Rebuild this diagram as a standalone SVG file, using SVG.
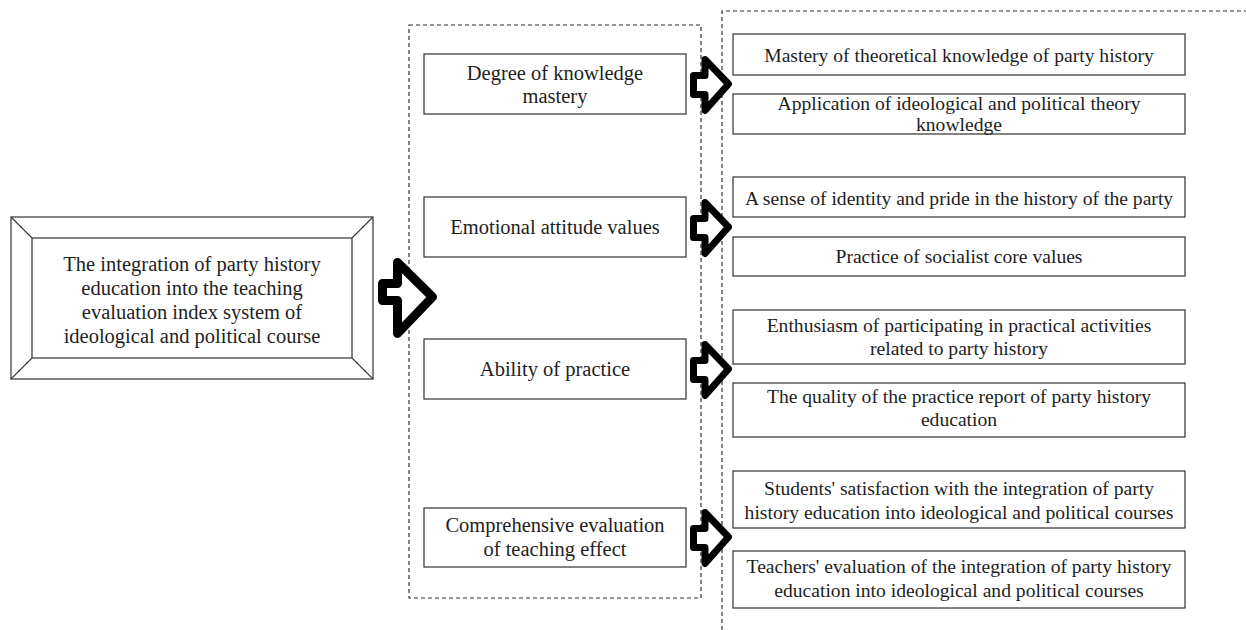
<svg xmlns="http://www.w3.org/2000/svg" width="1246" height="630" viewBox="0 0 1246 630">
<style>
.box{fill:#fff;stroke:#404040;stroke-width:1.3}
.dash{fill:none;stroke:#303030;stroke-width:1.2;stroke-dasharray:4 3}
.t{font-family:"Liberation Serif","Times New Roman",serif;fill:#1e1e1e;text-anchor:middle}
.m{font-size:20.5px}
.r{font-size:19.6px}
.arr{fill:#fff;stroke:#000;stroke-linejoin:round}
</style>
<rect width="1246" height="630" fill="#fff"/>
<g id="frames">
<rect class="dash" x="409" y="25" width="292" height="573"/>
<path class="dash" d="M722,630 V11 H1246"/>
</g>
<g id="root">
<rect class="box" x="11" y="217" width="362" height="162"/>
<rect class="box" x="32" y="238" width="320" height="120"/>
<path d="M11,217 L32,238 M373,217 L352,238 M11,379 L32,358 M373,379 L352,358" stroke="#404040" stroke-width="1.2" fill="none"/>
<text class="t m" x="192" y="271">The integration of party history</text>
<text class="t m" x="192" y="295">education into the teaching</text>
<text class="t m" x="192" y="319">evaluation index system of</text>
<text class="t m" x="192" y="343">ideological and political course</text>
</g>
<g id="connectors">
<path class="arr" stroke-width="9" d="M382.5,283.5 L397.5,283.5 L397.5,262.5 L432.5,297 L397.5,333.5 L397.5,300.5 L382.5,300.5 Z"/>
<path class="arr" stroke-width="7" transform="translate(0,85)" d="M693.5,-9.5 L705,-9.5 L705,-25.5 L728.5,-1 L705,25.5 L705,9.5 L693.5,9.5 Z"/>
<path class="arr" stroke-width="7" transform="translate(0,228)" d="M693.5,-9.5 L705,-9.5 L705,-25.5 L728.5,-1 L705,25.5 L705,9.5 L693.5,9.5 Z"/>
<path class="arr" stroke-width="7" transform="translate(0,370)" d="M693.5,-9.5 L705,-9.5 L705,-25.5 L728.5,-1 L705,25.5 L705,9.5 L693.5,9.5 Z"/>
<path class="arr" stroke-width="7" transform="translate(0,538)" d="M693.5,-9.5 L705,-9.5 L705,-25.5 L728.5,-1 L705,25.5 L705,9.5 L693.5,9.5 Z"/>
</g>
<g id="mid1">
<rect class="box" x="424" y="54" width="262" height="60"/>
<text class="t m" x="555" y="80">Degree of knowledge</text>
<text class="t m" x="555" y="103">mastery</text>
</g>
<g id="mid2">
<rect class="box" x="424" y="197" width="262" height="60"/>
<text class="t m" x="555" y="234">Emotional attitude values</text>
</g>
<g id="mid3">
<rect class="box" x="424" y="339" width="262" height="60"/>
<text class="t m" x="555" y="376">Ability of practice</text>
</g>
<g id="mid4">
<rect class="box" x="424" y="508" width="262" height="59"/>
<text class="t m" x="555" y="532">Comprehensive evaluation</text>
<text class="t m" x="555" y="556">of teaching effect</text>
</g>
<g id="r1">
<rect class="box" x="733" y="34" width="452" height="41"/>
<text class="t r" x="959" y="62">Mastery of theoretical knowledge of party history</text>
</g>
<g id="r2">
<rect class="box" x="733" y="94" width="452" height="40"/>
<text class="t r" x="959" y="110">Application of ideological and political theory</text>
<text class="t r" x="959" y="131">knowledge</text>
</g>
<g id="r3">
<rect class="box" x="733" y="177" width="452" height="40"/>
<text class="t r" x="959" y="205">A sense of identity and pride in the history of the party</text>
</g>
<g id="r4">
<rect class="box" x="733" y="237" width="452" height="39"/>
<text class="t r" x="959" y="263">Practice of socialist core values</text>
</g>
<g id="r5">
<rect class="box" x="733" y="310" width="452" height="54"/>
<text class="t r" x="959" y="332">Enthusiasm of participating in practical activities</text>
<text class="t r" x="959" y="355">related to party history</text>
</g>
<g id="r6">
<rect class="box" x="733" y="383" width="452" height="54"/>
<text class="t r" x="959" y="403">The quality of the practice report of party history</text>
<text class="t r" x="959" y="426">education</text>
</g>
<g id="r7">
<rect class="box" x="733" y="471" width="452" height="57"/>
<text class="t r" x="959" y="495">Students' satisfaction with the integration of party</text>
<text class="t r" x="959" y="519">history education into ideological and political courses</text>
</g>
<g id="r8">
<rect class="box" x="733" y="551" width="452" height="57"/>
<text class="t r" x="959" y="573">Teachers' evaluation of the integration of party history</text>
<text class="t r" x="959" y="597">education into ideological and political courses</text>
</g>
</svg>
